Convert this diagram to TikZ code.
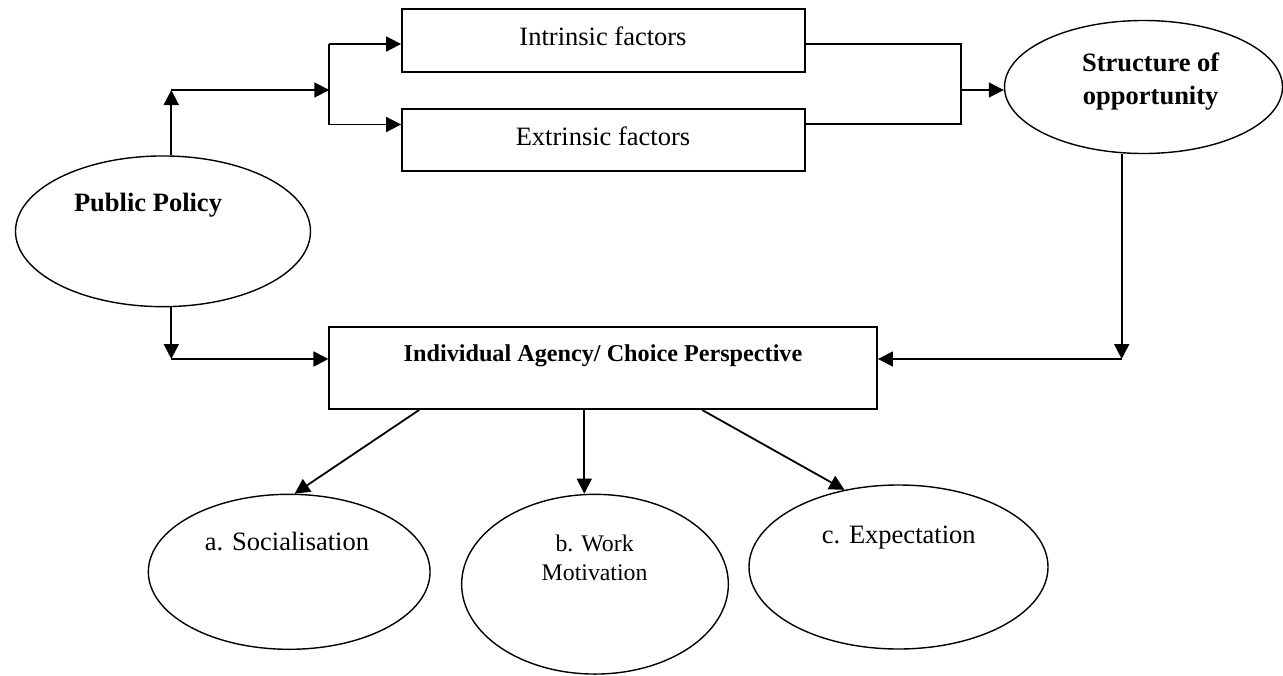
\documentclass[tikz,border=0pt]{standalone}
\usepackage{fontspec}
\setmainfont{Liberation Serif}
\usetikzlibrary{shapes.geometric,arrows.meta}
\tikzset{
  boxnode/.style={draw, rectangle, line width=1.8pt, inner sep=0pt},
  ellnode/.style={draw, ellipse, line width=1.4pt, inner sep=0pt},
  txt/.style={anchor=base, inner sep=0pt, font=\fontsize{26.5}{31}\selectfont},
  btxt/.style={anchor=base, inner sep=0pt, font=\fontsize{26.5}{32.3}\selectfont\bfseries},
  conn/.style={line width=1.8pt},
  arr/.style={line width=1.8pt, -{Triangle[length=15pt,width=15pt]}},
}
\begin{document}
\begin{tikzpicture}[x=1pt,y=-1pt]
\fill[white] (0,0) rectangle (1283,675);
\useasboundingbox (0,0) rectangle (1283,675);

% shapes
\node[ellnode, minimum width=295pt, minimum height=150.7pt] (pp) at (163,231.3) {};
\node[boxnode, minimum width=403pt, minimum height=62.7pt] (intr) at (603.5,40.7) {};
\node[boxnode, minimum width=403pt, minimum height=62pt] (extr) at (603.5,139.7) {};
\node[ellnode, minimum width=278pt, minimum height=133pt] (so) at (1143.5,87) {};
\node[boxnode, minimum width=547.7pt, minimum height=81.7pt] (ag) at (603.2,368.2) {};
\node[ellnode, minimum width=281.7pt, minimum height=155pt] (soc) at (289.2,571.8) {};
\node[ellnode, minimum width=266.7pt, minimum height=179.7pt] (wm) at (595,584.2) {};
\node[ellnode, minimum width=299pt, minimum height=164pt] (exp) at (898.5,567) {};

% texts (multi-line nodes: base anchor is the last line's baseline)
\node[btxt] (ppt) at (148,211.7) {Public Policy};
\node[txt] (intrt) at (603,45.7) {Intrinsic factors};
\node[txt] (extrt) at (603,145.3) {Extrinsic factors};
\node[btxt, align=center] (sot) at (1150.7,104) {Structure of\\opportunity};
\node[btxt, font=\fontsize{24.2}{29}\selectfont\bfseries] (agt) at (603,361.7) {Individual Agency/ Choice Perspective};
\node[txt] (soct) at (287,550) {a. Socialisation};
\node[txt, align=center, font=\fontsize{23.8}{28.3}\selectfont] (wmt) at (594.6,580) {b. Work\\Motivation};
\node[txt] (expt) at (898.7,543.3) {c. Expectation};

% coordinates
\coordinate (a1) at (171.3,90);
\coordinate (a2) at (329.3,90);
\coordinate (b1) at (329.3,44);
\coordinate (b2) at (329.3,124.5);
\coordinate (r1) at (961,44);
\coordinate (r2) at (961,124.3);
\coordinate (r3) at (961,90);
\coordinate (s1) at (1121.7,359);
\coordinate (p1) at (171.3,359);

% top left connectors
\draw[arr] (a1 |- pp.north) -- (a1);
\draw[arr] (a1) -- (a2);
\draw[conn] (b1) -- (b2);
\draw[arr] (b1) -- (b1 -| intr.west);
\draw[arr] (b2) -- (b2 -| extr.west);

% top right connectors
\draw[conn] (intr.east |- r1) -- (r1) -- (r2) -- (extr.east |- r2);
\draw[arr] (r3) -- (r3 -| so.west);

% to the agency box
\draw[arr] (s1 |- so.south) -- (s1);
\draw[arr] (s1) -- (s1 -| ag.east);
\draw[arr] (p1 |- pp.south) -- (p1);
\draw[arr] (p1) -- (p1 -| ag.west);

% from the agency box
\draw[arr] ([xshift=90.7pt]ag.south west) -- (soc.86);
\coordinate (m1) at (584.3,409);
\draw[arr] (m1 |- ag.south) -- (m1 |- wm.north);
\draw[arr] ([xshift=373.7pt]ag.south west) -- (exp.125);
\end{tikzpicture}
\end{document}
